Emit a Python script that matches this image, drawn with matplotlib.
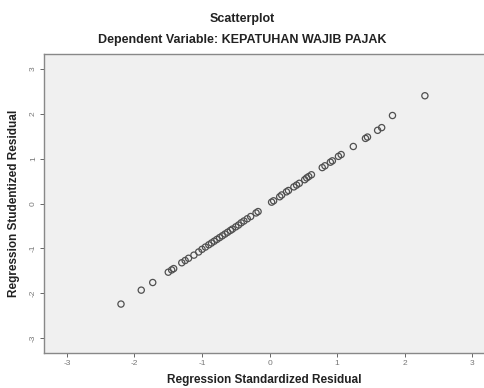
import matplotlib
matplotlib.use("Agg")
import matplotlib.pyplot as plt

std_resid = [-2.20, -1.90, -1.73, -1.50, -1.45, -1.42, -1.30, -1.25, -1.20, -1.12,
             -1.05, -1.00, -0.95, -0.90, -0.86, -0.82, -0.78, -0.74, -0.70, -0.66,
             -0.62, -0.58, -0.55, -0.50, -0.46, -0.42, -0.38, -0.33, -0.28, -0.20,
             -0.17, 0.03, 0.06, 0.15, 0.18, 0.25, 0.28, 0.36, 0.40, 0.44,
             0.52, 0.55, 0.58, 0.62, 0.78, 0.82, 0.90, 0.93, 1.02, 1.06,
             1.24, 1.42, 1.45, 1.60, 1.66, 1.82, 2.30]
stud_resid = [-2.24, -1.93, -1.76, -1.53, -1.48, -1.45, -1.32, -1.27, -1.22, -1.15,
              -1.08, -1.02, -0.97, -0.92, -0.88, -0.84, -0.80, -0.76, -0.72, -0.68,
              -0.64, -0.60, -0.57, -0.52, -0.48, -0.43, -0.39, -0.34, -0.29, -0.21,
              -0.18, 0.03, 0.06, 0.15, 0.19, 0.26, 0.29, 0.37, 0.41, 0.45,
              0.53, 0.57, 0.60, 0.64, 0.80, 0.84, 0.92, 0.95, 1.05, 1.09,
              1.27, 1.45, 1.48, 1.63, 1.69, 1.96, 2.40]
ticks = [-3, -2, -1, 0, 1, 2, 3]

plt.rcParams['font.family'] = ['Liberation Sans', 'DejaVu Sans']

fig = plt.figure(figsize=(4.85, 3.88), dpi=100)
ax = fig.add_axes([44/485, 1-353/388, 1-44/485, (353-54)/388])
ax.set_facecolor('#f0f0f0')
ax.scatter(std_resid, stud_resid, s=20, facecolors='none', edgecolors='#505050', linewidths=0.9)
ax.set_xlim(-3.34, 3.19)
ax.set_ylim(-3.33, 3.33)
ax.set_xticks(ticks)
ax.set_yticks(ticks)
ax.set_xticklabels([str(t) for t in ticks], fontsize=6, color='#777777')
ax.set_yticklabels([str(t) for t in ticks], fontsize=6, color='#777777', rotation=90, va='center')
ax.tick_params(length=3, width=0.7, color='#666666', pad=2)
for s in ax.spines.values():
    s.set_color('#888888')
    s.set_linewidth(1.0)
ax.set_xlabel('Regression Standardized Residual', fontsize=8.5, fontweight='bold', color='#222222', labelpad=5)
ax.set_ylabel('Regression Studentized Residual', fontsize=8.5, fontweight='bold', color='#222222', labelpad=7)
fig.text(0.5, 1-19/388, 'Scatterplot', ha='center', va='center', fontsize=9, fontweight='bold', color='#222222')
fig.text(0.5, 1-40/388, 'Dependent Variable: KEPATUHAN WAJIB PAJAK', ha='center', va='center', fontsize=9, fontweight='bold', color='#222222')
fig.savefig('out.png', dpi=100)
